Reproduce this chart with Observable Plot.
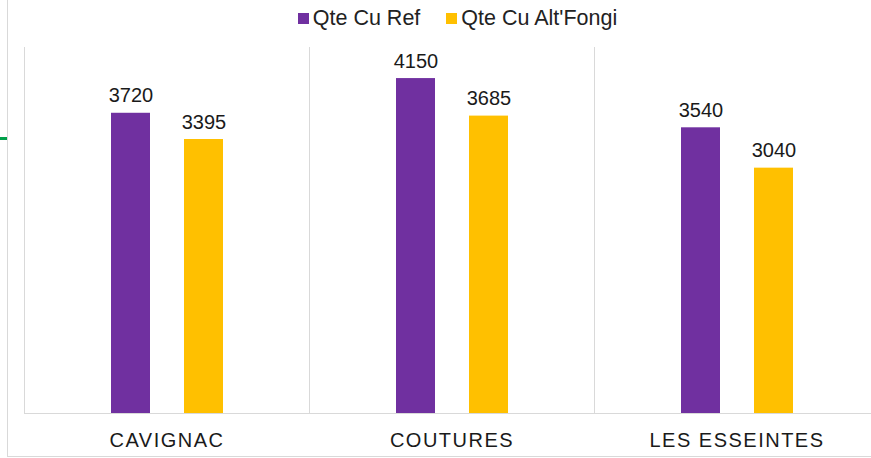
<!DOCTYPE html>
<html>
<head>
<meta charset="utf-8">
<script src="https://cdn.jsdelivr.net/npm/d3@7"></script>
<script src="https://cdn.jsdelivr.net/npm/@observablehq/plot@0.6"></script>
<style>
  html, body { margin: 0; padding: 0; background: #fff; overflow: hidden; }
  #wrap { position: relative; width: 871px; height: 458px; font-family: "Liberation Sans", Arial, sans-serif; }
  #legend { height: 36px; display: flex; justify-content: center; align-items: center; font-size: 21.5px; color: #222; padding-left: 44px; box-sizing: border-box; }
  .item { display: flex; align-items: center; margin: 0 13px; }
  .sw { width: 11px; height: 11px; margin-right: 4px; }
  #chart svg { overflow: visible; display: block; max-width: none !important; }
  #chart [aria-label="fx-axis tick label"] text { letter-spacing: 1.5px; }
  #border { position: absolute; left: 7px; top: 0; width: 900px; height: 456px; border-left: 1px solid #d9d9d9; border-bottom: 1px solid #d9d9d9; pointer-events: none; }
  #tick { position: absolute; left: 0; top: 137px; width: 7px; height: 3px; background: #00a04a; }
</style>
</head>
<body>
<div id="wrap">
  <div id="border"></div>
  <div id="tick"></div>
  <div id="legend"></div>
  <div id="chart"></div>
</div>
<script>
const categories = ["CAVIGNAC", "COUTURES", "LES ESSEINTES"];
const series = ["Qte Cu Ref", "Qte Cu Alt'Fongi"];
const refValues = [3720, 4150, 3540];
const altValues = [3395, 3685, 3040];
const colors = ["#7030A0", "#FFC000"];

const data = [];
categories.forEach((c, i) => {
  data.push({category: c, series: series[0], value: refValues[i]});
  data.push({category: c, series: series[1], value: altValues[i]});
});

const legend = document.getElementById("legend");
series.forEach((s, i) => {
  const it = document.createElement("div");
  it.className = "item";
  it.innerHTML = `<span class="sw" style="background:${colors[i]}"></span><span>${s}</span>`;
  legend.appendChild(it);
});

const plot = Plot.plot({
  width: 879,
  height: 422,
  marginLeft: 24,
  marginRight: 0,
  marginTop: 11,
  marginBottom: 45,
  style: {fontFamily: "Liberation Sans, Arial, sans-serif", color: "#1a1a1a", background: "transparent", maxWidth: "none"},
  fx: {domain: categories, padding: 0, label: null},
  x: {domain: series, paddingInner: 0.466, paddingOuter: 1.185, axis: null},
  y: {domain: [0, 4535], axis: null},
  color: {domain: series, range: colors},
  marks: [
    Plot.frame({anchor: "left", stroke: "#d9d9d9"}),
    Plot.ruleY([0], {stroke: "#d9d9d9"}),
    Plot.barY(data, {fx: "category", x: "series", y: "value", fill: "series"}),
    Plot.text(data, {fx: "category", x: "series", y: "value", text: d => String(d.value), dy: -11, lineAnchor: "bottom", fontSize: 20, fill: "#1a1a1a"}),
    Plot.axisFx({anchor: "bottom", tickSize: 0, tickPadding: 19, fontSize: 20, label: null})
  ]
});
document.getElementById("chart").appendChild(plot);
</script>
</body>
</html>
